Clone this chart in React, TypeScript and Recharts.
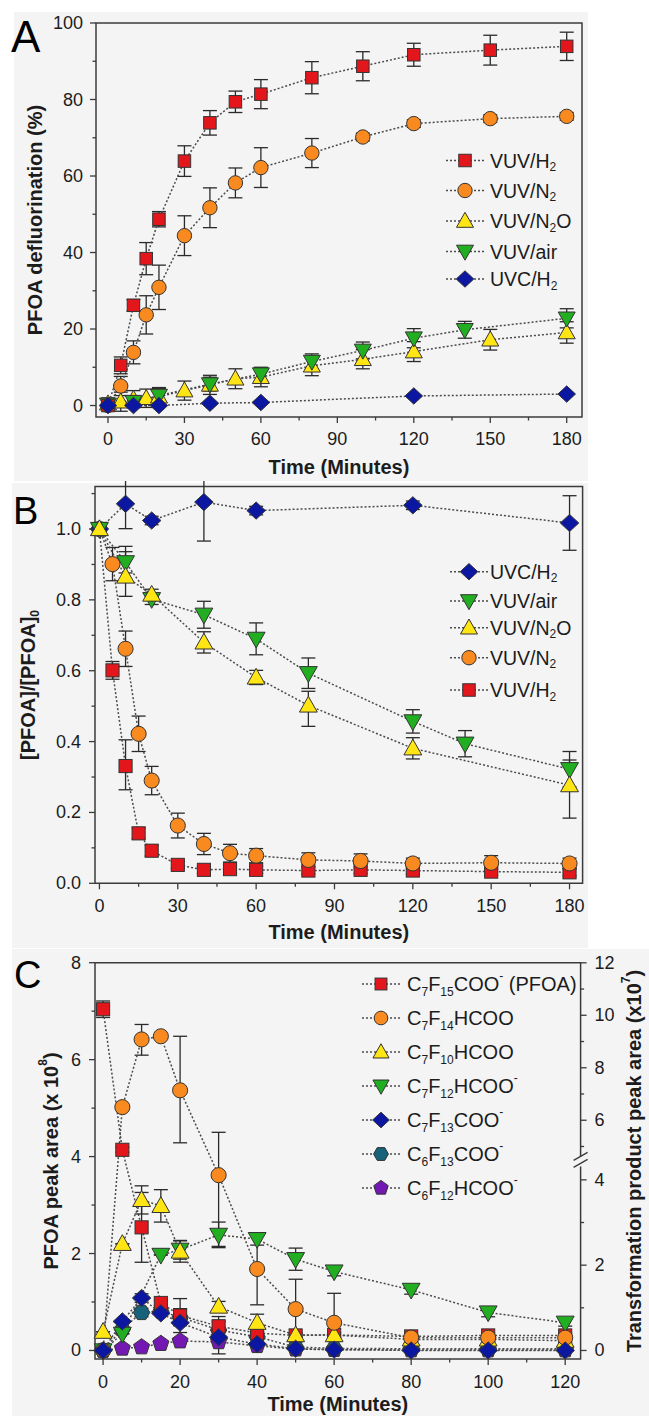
import React from 'react';
import { LineChart, Line, XAxis, YAxis, ErrorBar, ReferenceArea, ReferenceDot, Label } from 'recharts';

const FONT = '"Liberation Sans", Arial, Helvetica, sans-serif';
const INK = '#1c1c1c';
const FRAME = '#3b3b3b';
const CONNECT = '#4b4b4b';
const BG = '#f4f4f4';

const RED = '#e3161c';
const ORANGE = '#f98a1f';
const YELLOW = '#ffe514';
const GREEN = '#21ae21';
const BLUE = '#0c17a1';
const TEAL = '#15627a';
const PURPLE = '#7418b4';

// ---------------- Panel A : PFOA defluorination (%) ----------------
const A_TIME = [0, 5, 10, 15, 20, 30, 40, 50, 60, 80, 100, 120, 150, 180];
const A_TIME_AIR = [0, 10, 20, 40, 60, 80, 100, 120, 140, 180];
const A_TIME_UVC = [0, 10, 20, 40, 60, 120, 180];
const A_VUV_H2 = [0, 10.5, 26.2, 38.4, 48.7, 63.9, 73.9, 79.4, 81.4, 85.7, 88.7, 91.7, 92.9, 93.9];
const A_VUV_H2_ERR = [0.5, 2.2, 1.5, 4.2, 2.0, 4.0, 3.2, 2.8, 3.8, 4.2, 3.8, 3.0, 3.9, 3.7];
const A_VUV_N2 = [0, 5.1, 13.9, 23.7, 30.9, 44.4, 51.7, 58.2, 62.2, 66.0, 70.2, 73.7, 75.0, 75.6];
const A_VUV_N2_ERR = [0.5, 2.5, 3.0, 5.0, 5.8, 5.2, 5.2, 3.9, 5.2, 3.8, 1.0, 1.0, 1.0, 1.0];
const A_VUV_N2O = [0.5, 1.0, 1.7, 1.9, 2.3, 3.9, 5.4, 7.0, 7.4, 10.4, 12.1, 14.1, 17.2, 19.1];
const A_VUV_N2O_ERR = [1.5, 2.5, 2.2, 2.4, 2.4, 2.5, 2.5, 2.6, 2.5, 2.6, 2.5, 2.6, 2.7, 2.8];
const A_VUV_AIR = [0.3, 1.0, 2.6, 5.6, 8.2, 11.5, 14.4, 17.6, 19.8, 22.8];
const A_VUV_AIR_ERR = [1.2, 1.5, 1.8, 1.8, 1.8, 2.0, 2.2, 2.5, 2.2, 2.5];
const A_UVC_H2 = [0, 0, 0, 0.6, 0.8, 2.5, 3.0];
const A_UVC_H2_ERR = [0, 0, 0, 0, 0, 0, 0];
const A_X_TICKS = [0, 15, 30, 45, 60, 75, 90, 105, 120, 135, 150, 165, 180];
const A_X_MAJOR = [0, 30, 60, 90, 120, 150, 180];
const A_Y_TICKS = [0, 10, 20, 30, 40, 50, 60, 70, 80, 90, 100];
const A_Y_MAJOR = [0, 20, 40, 60, 80, 100];

// ---------------- Panel B : [PFOA]/[PFOA]0 ----------------
const B_TIME = [0, 5, 10, 15, 20, 30, 40, 50, 60, 80, 100, 120, 150, 180];
const B_TIME_UVC = [0, 10, 20, 40, 60, 120, 180];
const B_TIME_AIR = [0, 10, 20, 40, 60, 80, 120, 140, 180];
const B_TIME_N2O = [0, 10, 20, 40, 60, 80, 120, 180];
const B_UVC_H2 = [1.0, 1.071, 1.024, 1.076, 1.052, 1.067, 1.017];
const B_UVC_H2_ERR = [0.01, 0.07, 0.012, 0.11, 0.012, 0.012, 0.077];
const B_VUV_AIR = [1.0, 0.906, 0.802, 0.758, 0.69, 0.593, 0.457, 0.394, 0.322];
const B_VUV_AIR_ERR = [0.01, 0.03, 0.015, 0.038, 0.045, 0.043, 0.033, 0.037, 0.05];
const B_VUV_N2O = [1.0, 0.866, 0.815, 0.68, 0.581, 0.502, 0.381, 0.277];
const B_VUV_N2O_LO = [0.01, 0.056, 0.015, 0.03, 0.02, 0.059, 0.03, 0.093];
const B_VUV_N2O_HI = [0.01, 0.085, 0.015, 0.03, 0.02, 0.04, 0.03, 0.071];
const B_VUV_N2 = [1.0, 0.901, 0.662, 0.422, 0.29, 0.163, 0.111, 0.085, 0.078, 0.066, 0.063, 0.056, 0.058, 0.056];
const B_VUV_N2_ERR = [0.01, 0.047, 0.05, 0.05, 0.04, 0.035, 0.03, 0.025, 0.02, 0.02, 0.02, 0.015, 0.02, 0.015];
const B_VUV_H2 = [1.0, 0.601, 0.331, 0.141, 0.092, 0.052, 0.038, 0.04, 0.038, 0.036, 0.038, 0.036, 0.033, 0.031];
const B_VUV_H2_LO = [0.01, 0.025, 0.067, 0.015, 0.015, 0.01, 0.01, 0.01, 0.01, 0.01, 0.01, 0.01, 0.01, 0.01];
const B_VUV_H2_HI = [0.01, 0.025, 0.074, 0.015, 0.015, 0.01, 0.01, 0.01, 0.01, 0.01, 0.01, 0.01, 0.01, 0.01];
const B_Y_TICKS = [0, 0.1, 0.2, 0.3, 0.4, 0.5, 0.6, 0.7, 0.8, 0.9, 1.0, 1.1];
const B_Y_MAJOR = [0, 0.2, 0.4, 0.6, 0.8, 1.0];

// ---------------- Panel C : peak areas ----------------
const C_TIME = [0, 5, 10, 15, 20, 30, 40, 50, 60, 80, 100, 120];
const C_TIME_C7F12 = [0, 5, 15, 20, 30, 40, 50, 60, 80, 100, 120];
// PFOA, left axis (x 10^8)
const C_PFOA = [7.04, 4.14, 2.54, 0.98, 0.72, 0.5, 0.36, 0.31, 0.32, 0.29, 0.31, 0.31];
const C_PFOA_ERR = [0.17, 0.05, 0.72, 0.05, 0.35, 0.2, 0.1, 0.05, 0.05, 0.05, 0.05, 0.05];
// transformation products, right (broken) axis (x 10^7)
const C_C7F14 = [0, 6.5, 9.08, 9.2, 7.14, 4.11, 1.91, 0.97, 0.65, 0.3, 0.3, 0.3];
const C_C7F14_LO = [0, 0, 0.6, 0, 2.0, 1.67, 0.84, 0.7, 0.65, 0, 0, 0];
const C_C7F14_HI = [0, 0, 0.57, 0, 2.06, 1.43, 0.8, 0.7, 0.69, 0, 0, 0];
const C_C7F10 = [0.44, 2.5, 3.53, 3.39, 2.32, 1.03, 0.65, 0.36, 0.36, 0.26, 0.26, 0.23];
const C_C7F10_ERR = [0, 0, 0.33, 0.38, 0.25, 0.12, 0.2, 0.05, 0.05, 0.05, 0.05, 0.05];
const C_C7F12 = [0, 0.39, 2.24, 2.36, 2.71, 2.61, 2.14, 1.85, 1.42, 0.89, 0.65];
const C_C7F12_ERR = [0, 0, 0, 0.22, 0.3, 0.14, 0.26, 0.1, 0.1, 0.1, 0.08];
const C_C7F13 = [0, 0.68, 1.23, 0.87, 0.65, 0.31, 0.15, 0.04, 0.02, 0, 0, 0];
const C_C7F13_ERR = [0, 0, 0.1, 0, 0, 0, 0, 0, 0, 0, 0, 0];
const C_C6F13 = [0, 0.5, 0.89, 0.92, 0.78, 0.48, 0.32, 0.08, 0.05, 0.04, 0.04, 0.04];
const C_C6F13_ERR = [0, 0, 0.1, 0, 0.2, 0.2, 0.1, 0, 0, 0, 0, 0];
const C_C6F12 = [0, 0.05, 0.08, 0.16, 0.22, 0.2, 0.11, 0.03, 0.02, 0.01, 0.01, 0.01];
const C_C6F12_ERR = [0, 0, 0, 0, 0, 0.28, 0, 0, 0, 0, 0, 0];
const C_X_TICKS = [0, 10, 20, 30, 40, 50, 60, 70, 80, 90, 100, 110, 120];
const C_X_MAJOR = [0, 20, 40, 60, 80, 100, 120];
const C_Y_TICKS = [0, 1, 2, 3, 4, 5, 6, 7, 8];
const C_Y_MAJOR = [0, 2, 4, 6, 8];
const C_R_TICKS = [0, 1, 2, 3, 4, 5, 6, 7, 8, 9, 10, 11, 12];
const C_R_MAJOR = [0, 2, 4, 6, 8, 10, 12];
// broken right axis: below BREAK_V one slope, above it a compressed one (expressed in left-axis units)
const BREAK_V = 4.43;
const BREAK_L = 3.9;
const LOW_SLOPE = 0.88;
const HIGH_SLOPE = 0.5413;
const brk = (v: number) => (v <= BREAK_V ? v * LOW_SLOPE : BREAK_L + (v - BREAK_V) * HIGH_SLOPE);
const unbrk = (l: number) => (l <= BREAK_L ? l / LOW_SLOPE : BREAK_V + (l - BREAK_L) / HIGH_SLOPE);

type Part = [string, string];
type Shape = 'square' | 'circle' | 'up' | 'down' | 'diamond' | 'hexagon' | 'pentagon';
interface Series {
  id: string;
  name: Part[];
  shape: Shape;
  color: string;
  t: number[];
  v: number[];
  lo: number[];
  hi?: number[];
  right?: boolean;
}

const A_SERIES: Series[] = [
  { id: 'a-h2', name: [['VUV/H', ''], ['2', 'sub']], shape: 'square', color: RED, t: A_TIME, v: A_VUV_H2, lo: A_VUV_H2_ERR },
  { id: 'a-n2', name: [['VUV/N', ''], ['2', 'sub']], shape: 'circle', color: ORANGE, t: A_TIME, v: A_VUV_N2, lo: A_VUV_N2_ERR },
  { id: 'a-n2o', name: [['VUV/N', ''], ['2', 'sub'], ['O', '']], shape: 'up', color: YELLOW, t: A_TIME, v: A_VUV_N2O, lo: A_VUV_N2O_ERR },
  { id: 'a-air', name: [['VUV/air', '']], shape: 'down', color: GREEN, t: A_TIME_AIR, v: A_VUV_AIR, lo: A_VUV_AIR_ERR },
  { id: 'a-uvc', name: [['UVC/H', ''], ['2', 'sub']], shape: 'diamond', color: BLUE, t: A_TIME_UVC, v: A_UVC_H2, lo: A_UVC_H2_ERR },
];
const A_DRAW = ['a-n2o', 'a-air', 'a-n2', 'a-h2', 'a-uvc'];

const B_SERIES: Series[] = [
  { id: 'b-uvc', name: [['UVC/H', ''], ['2', 'sub']], shape: 'diamond', color: BLUE, t: B_TIME_UVC, v: B_UVC_H2, lo: B_UVC_H2_ERR },
  { id: 'b-air', name: [['VUV/air', '']], shape: 'down', color: GREEN, t: B_TIME_AIR, v: B_VUV_AIR, lo: B_VUV_AIR_ERR },
  { id: 'b-n2o', name: [['VUV/N', ''], ['2', 'sub'], ['O', '']], shape: 'up', color: YELLOW, t: B_TIME_N2O, v: B_VUV_N2O, lo: B_VUV_N2O_LO, hi: B_VUV_N2O_HI },
  { id: 'b-n2', name: [['VUV/N', ''], ['2', 'sub']], shape: 'circle', color: ORANGE, t: B_TIME, v: B_VUV_N2, lo: B_VUV_N2_ERR },
  { id: 'b-h2', name: [['VUV/H', ''], ['2', 'sub']], shape: 'square', color: RED, t: B_TIME, v: B_VUV_H2, lo: B_VUV_H2_LO, hi: B_VUV_H2_HI },
];
const B_DRAW = ['b-h2', 'b-n2', 'b-uvc', 'b-air', 'b-n2o'];

const C_SERIES: Series[] = [
  { id: 'c-pfoa', name: [['C', ''], ['7', 'sub'], ['F', ''], ['15', 'sub'], ['COO', ''], ['-', 'sup'], [' (PFOA)', '']], shape: 'square', color: RED, t: C_TIME, v: C_PFOA, lo: C_PFOA_ERR },
  { id: 'c-7f14', name: [['C', ''], ['7', 'sub'], ['F', ''], ['14', 'sub'], ['HCOO', '']], shape: 'circle', color: ORANGE, t: C_TIME, v: C_C7F14, lo: C_C7F14_LO, hi: C_C7F14_HI, right: true },
  { id: 'c-7f10', name: [['C', ''], ['7', 'sub'], ['F', ''], ['10', 'sub'], ['HCOO', '']], shape: 'up', color: YELLOW, t: C_TIME, v: C_C7F10, lo: C_C7F10_ERR, right: true },
  { id: 'c-7f12', name: [['C', ''], ['7', 'sub'], ['F', ''], ['12', 'sub'], ['HCOO', ''], ['-', 'sup']], shape: 'down', color: GREEN, t: C_TIME_C7F12, v: C_C7F12, lo: C_C7F12_ERR, right: true },
  { id: 'c-7f13', name: [['C', ''], ['7', 'sub'], ['F', ''], ['13', 'sub'], ['COO', ''], ['-', 'sup']], shape: 'diamond', color: BLUE, t: C_TIME, v: C_C7F13, lo: C_C7F13_ERR, right: true },
  { id: 'c-6f13', name: [['C', ''], ['6', 'sub'], ['F', ''], ['13', 'sub'], ['COO', ''], ['-', 'sup']], shape: 'hexagon', color: TEAL, t: C_TIME, v: C_C6F13, lo: C_C6F13_ERR, right: true },
  { id: 'c-6f12', name: [['C', ''], ['6', 'sub'], ['F', ''], ['12', 'sub'], ['HCOO', ''], ['-', 'sup']], shape: 'pentagon', color: PURPLE, t: C_TIME, v: C_C6F12, lo: C_C6F12_ERR, right: true },
];
const C_DRAW = ['c-6f12', 'c-6f13', 'c-pfoa', 'c-7f12', 'c-7f10', 'c-7f14', 'c-7f13'];

function rowsOf(s: Series) {
  return s.t.map((t, i) => {
    const val = s.v[i];
    const lo = s.lo[i];
    const hi = s.hi ? s.hi[i] : lo;
    if (s.right) {
      const p = brk(val);
      return { t, v: p, e: [p - brk(val - lo), brk(val + hi) - p] };
    }
    return { t, v: val, e: [lo, hi] };
  });
}

function Marker({ shape, cx, cy, fill, k = 1 }: { shape: Shape; cx: number; cy: number; fill: string; k?: number }) {
  const st = { fill, stroke: '#333', strokeWidth: 1 };
  if (shape === 'square') {
    const s = 12.5 * k;
    return <rect x={cx - s / 2} y={cy - s / 2} width={s} height={s} {...st} />;
  }
  if (shape === 'circle') return <circle cx={cx} cy={cy} r={7.2 * k} {...st} />;
  if (shape === 'up' || shape === 'down') {
    const w = 17 * k, h = 15 * k, d = shape === 'up' ? 1 : -1;
    const pts = `${cx},${cy - d * h * 0.58} ${cx - w / 2},${cy + d * h * 0.42} ${cx + w / 2},${cy + d * h * 0.42}`;
    return <polygon points={pts} {...st} />;
  }
  if (shape === 'diamond') {
    const a = 8.8 * k, b = 8.2 * k;
    return <polygon points={`${cx},${cy - b} ${cx + a},${cy} ${cx},${cy + b} ${cx - a},${cy}`} {...st} />;
  }
  const n = shape === 'hexagon' ? 6 : 5;
  const r = (shape === 'hexagon' ? 7.8 : 8) * k;
  const start = shape === 'hexagon' ? 0 : -90;
  const pts = Array.from({ length: n }, (_, i) => {
    const a = ((start + (360 / n) * i) * Math.PI) / 180;
    return `${cx + r * Math.cos(a)},${cy + r * Math.sin(a)}`;
  }).join(' ');
  return <polygon points={pts} {...st} />;
}

function Rich({ x, y, parts, size, bold = false, anchor = 'start', rotate = false, sub = 0.34 }: any) {
  let shift = 0;
  const kids = (parts as Part[]).map(([s, kind], i) => {
    const target = kind === 'sub' ? size * sub : kind === 'sup' ? -size * 0.42 : 0;
    const dy = target - shift;
    shift = target;
    return (
      <tspan key={i} dy={dy} fontSize={kind ? Math.round(size * 0.62) : size}>
        {s}
      </tspan>
    );
  });
  return (
    <text
      x={x}
      y={y}
      textAnchor={anchor}
      dominantBaseline="central"
      fontFamily={FONT}
      fontWeight={bold ? 'bold' : 'normal'}
      fontSize={size}
      fill={INK}
      transform={rotate ? `rotate(-90 ${x} ${y})` : undefined}
    >
      {kids}
    </text>
  );
}

const near = (v: number, arr: number[]) => arr.some((a) => Math.abs(a - v) < 1e-6);

function makeTick(side: 'bottom' | 'left' | 'right', major: number[], fmt: (v: number) => string, gap: number, conv?: (v: number) => number) {
  return (props: any) => {
    const { x, y, payload } = props;
    const raw = payload.value as number;
    const v = conv ? Math.round(conv(raw) * 1000) / 1000 : raw;
    const isMajor = near(v, major);
    const len = isMajor ? 6 : 3.5;
    const ln = { stroke: FRAME, strokeWidth: 1.3 };
    if (side === 'bottom') {
      return (
        <g>
          <line x1={x} y1={y} x2={x} y2={y + len} {...ln} />
          {isMajor && (
            <text x={x} y={y + gap} textAnchor="middle" dominantBaseline="central" fontFamily={FONT} fontSize={18} fill={INK}>
              {fmt(v)}
            </text>
          )}
        </g>
      );
    }
    const dir = side === 'left' ? -1 : 1;
    return (
      <g>
        <line x1={x} y1={y} x2={x + dir * len} y2={y} {...ln} />
        {isMajor && (
          <text x={x + dir * gap} y={y} textAnchor={side === 'left' ? 'end' : 'start'} dominantBaseline="central" fontFamily={FONT} fontSize={18} fill={INK}>
            {fmt(v)}
          </text>
        )}
      </g>
    );
  };
}

function seriesLines(list: Series[], order: string[], k: number, yAxisId?: string) {
  return order.map((id) => {
    const s = list.find((q) => q.id === id)!;
    const extra: any = yAxisId ? { yAxisId } : {};
    return (
      <Line
        key={s.id}
        {...extra}
        data={rowsOf(s)}
        dataKey="v"
        type="linear"
        stroke={CONNECT}
        strokeWidth={1.5}
        strokeDasharray="2 2"
        isAnimationActive={false}
        activeDot={false}
        legendType="none"
        dot={(p: any) =>
          p.cx == null || p.cy == null ? (
            <g key={`${s.id}-${p.index}`} />
          ) : (
            <Marker key={`${s.id}-${p.index}`} shape={s.shape} cx={p.cx} cy={p.cy} fill={s.color} k={k} />
          )
        }
      >
        <ErrorBar dataKey="e" direction="y" width={7} stroke="#2a2a2a" strokeWidth={1.3} />
      </Line>
    );
  });
}

function LegendRows({ list, x, textX, ys, size, k, sub }: any) {
  return (
    <g>
      {(list as Series[]).map((s, i) => (
        <g key={s.id}>
          <line x1={x - 19} x2={x + 19} y1={ys[i]} y2={ys[i]} stroke={CONNECT} strokeWidth={1.5} strokeDasharray="2 2" />
          <Marker shape={s.shape} cx={x} cy={ys[i]} fill={s.color} k={k} />
          <Rich x={textX} y={ys[i]} parts={s.name} size={size} sub={sub} />
        </g>
      ))}
    </g>
  );
}

const A_LEG_Y = [160.5, 190.5, 221, 251.5, 279];
const B_LEG_Y = [571.7, 601, 627.7, 657.7, 690];
const C_LEG_Y = [984, 1018, 1052, 1086, 1120, 1154, 1188];

function BreakMark(props: any) {
  const { cx, cy } = props;
  return (
    <g>
      <rect x={cx - 3} y={cy - 5} width={6} height={10} fill={BG} />
      <line x1={cx - 7} y1={cy - 1} x2={cx + 7} y2={cy - 9} stroke={FRAME} strokeWidth={1.3} />
      <line x1={cx - 7} y1={cy + 6} x2={cx + 7} y2={cy - 2} stroke={FRAME} strokeWidth={1.3} />
    </g>
  );
}

export default function App() {
  return (
    <div style={{ position: 'absolute', left: 0, top: 0, width: 649, height: 1416, background: '#fff', overflow: 'hidden' }}>
      <div style={{ position: 'absolute', left: 14, top: 12, width: 574, height: 469, background: BG }} />
      <div style={{ position: 'absolute', left: 12, top: 483, width: 576, height: 465, background: BG }} />
      <div style={{ position: 'absolute', left: 12, top: 949, width: 637, height: 467, background: BG }} />

      {/* Panel A */}
      <div style={{ position: 'absolute', left: 0, top: 0 }}>
        <LineChart width={649} height={480} margin={{ top: 23, right: 67, bottom: 33, left: 36 }}>
          <XAxis
            type="number"
            dataKey="t"
            domain={[-4.7, 186]}
            ticks={A_X_TICKS}
            interval={0}
            tickSize={0}
            tickMargin={0}
            axisLine={false}
            tickLine={false}
            height={30}
            tick={makeTick('bottom', A_X_MAJOR, (v) => String(v), 22)}
          >
            <Label content={() => <Rich x={339} y={467} parts={[['Time (Minutes)', '']]} size={20} bold anchor="middle" />} />
          </XAxis>
          <YAxis
            type="number"
            domain={[-3, 100]}
            ticks={A_Y_TICKS}
            interval={0}
            tickSize={0}
            tickMargin={0}
            axisLine={false}
            tickLine={false}
            width={60}
            tick={makeTick('left', A_Y_MAJOR, (v) => String(v), 13)}
          >
            <Label content={() => <Rich x={35} y={220} parts={[['PFOA defluorination (%)', '']]} size={20} bold anchor="middle" rotate />} />
          </YAxis>
          <ReferenceArea x1={-4.7} x2={186} y1={-3} y2={100} fill="none" stroke={FRAME} strokeWidth={1.5} ifOverflow="visible" />
          {seriesLines(A_SERIES, A_DRAW, 1)}
        </LineChart>
      </div>

      {/* Panel B */}
      <div style={{ position: 'absolute', left: 0, top: 481 }}>
        <LineChart width={649} height={470} margin={{ top: 5.5, right: 66.4, bottom: 37.7, left: 35 }}>
          <XAxis
            type="number"
            dataKey="t"
            domain={[-1.7, 185]}
            ticks={A_X_TICKS}
            interval={0}
            tickSize={0}
            tickMargin={0}
            axisLine={false}
            tickLine={false}
            height={30}
            tick={makeTick('bottom', A_X_MAJOR, (v) => String(v), 23)}
          >
            <Label content={() => <Rich x={338.8} y={450.7} parts={[['Time (Minutes)', '']]} size={20} bold anchor="middle" />} />
          </XAxis>
          <YAxis
            type="number"
            domain={[0, 1.12]}
            allowDataOverflow
            ticks={B_Y_TICKS}
            interval={0}
            tickSize={0}
            tickMargin={0}
            axisLine={false}
            tickLine={false}
            width={60}
            tick={makeTick('left', B_Y_MAJOR, (v) => v.toFixed(1), 14)}
          >
            <Label
              content={() => (
                <Rich x={28} y={204} parts={[['[PFOA]/[PFOA]', ''], ['0', 'sub']]} size={20} bold anchor="middle" rotate />
              )}
            />
          </YAxis>
          <ReferenceArea x1={-1.7} x2={185} y1={0} y2={1.12} fill="none" stroke={FRAME} strokeWidth={1.5} ifOverflow="visible" />
          {seriesLines(B_SERIES, B_DRAW, 1.05)}
        </LineChart>
      </div>

      {/* Panel C */}
      <div style={{ position: 'absolute', left: 0, top: 951 }}>
        <LineChart width={649} height={465} margin={{ top: 11.7, right: 0, bottom: 27, left: 35 }}>
          <XAxis
            type="number"
            dataKey="t"
            domain={[-2.1, 124]}
            ticks={C_X_TICKS}
            interval={0}
            tickSize={0}
            tickMargin={0}
            axisLine={false}
            tickLine={false}
            height={30}
            tick={makeTick('bottom', C_X_MAJOR, (v) => String(v), 23)}
          >
            <Label content={() => <Rich x={337.8} y={452.5} parts={[['Time (Minutes)', '']]} size={20} bold anchor="middle" />} />
          </XAxis>
          <YAxis
            yAxisId="left"
            type="number"
            domain={[-0.176, 8]}
            ticks={C_Y_TICKS}
            interval={0}
            tickSize={0}
            tickMargin={0}
            axisLine={false}
            tickLine={false}
            width={60}
            tick={makeTick('left', C_Y_MAJOR, (v) => String(v), 14)}
          >
            <Label
              content={() => (
                <Rich x={51} y={210} parts={[['PFOA peak area (x 10', ''], ['8', 'sup'], [')', '']]} size={20} bold anchor="middle" rotate />
              )}
            />
          </YAxis>
          <YAxis
            yAxisId="right"
            orientation="right"
            type="number"
            domain={[-0.176, 8]}
            allowDataOverflow
            ticks={C_R_TICKS.map(brk)}
            interval={0}
            tickSize={0}
            tickMargin={0}
            axisLine={false}
            tickLine={false}
            width={68.4}
            tick={makeTick('right', C_R_MAJOR, (v) => String(Math.round(v)), 14, unbrk)}
          >
            <Label
              content={() => (
                <Rich x={634} y={210} parts={[['Transformation product peak area (x10', ''], ['7', 'sup'], [')', '']]} size={20} bold anchor="middle" rotate />
              )}
            />
          </YAxis>
          <ReferenceArea yAxisId="left" x1={-2.1} x2={124} y1={-0.176} y2={8} fill="none" stroke={FRAME} strokeWidth={1.5} ifOverflow="visible" />
          <ReferenceDot yAxisId="left" x={124} y={BREAK_L} r={0} ifOverflow="visible" shape={(p: any) => <BreakMark {...p} />} />
          {seriesLines(C_SERIES, C_DRAW, 1.05, 'left')}
        </LineChart>
      </div>

      {/* legends & panel letters */}
      <svg width={649} height={1416} style={{ position: 'absolute', left: 0, top: 0, pointerEvents: 'none' }}>
        <text x={11} y={52} fontFamily={FONT} fontSize={44} fill="#000">A</text>
        <text x={13} y={524} fontFamily={FONT} fontSize={38} fill="#000">B</text>
        <text x={14} y={988} fontFamily={FONT} fontSize={38} fill="#000">C</text>
        <LegendRows list={A_SERIES} x={465} textX={490} ys={A_LEG_Y} size={19.5} k={1} sub={0.34} />
        <LegendRows list={B_SERIES} x={469} textX={490} ys={B_LEG_Y} size={19.5} k={1} sub={0.34} />
        <LegendRows list={C_SERIES} x={381} textX={407} ys={C_LEG_Y} size={20} k={0.95} sub={0.42} />
      </svg>
    </div>
  );
}
